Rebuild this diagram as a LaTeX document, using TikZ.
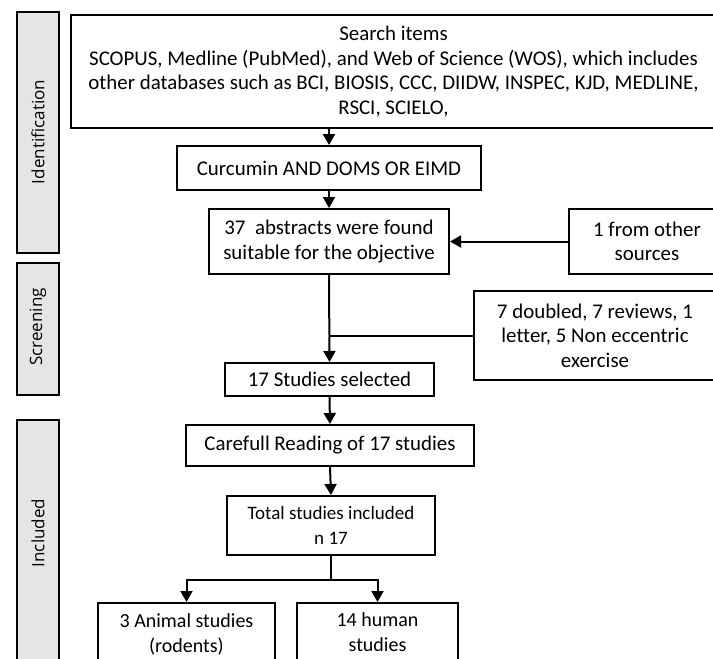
\documentclass[tikz,border=0pt]{standalone}
\usepackage{fontspec}
\setmainfont{Carlito}[Ligatures={NoCommon,NoRare},Contextuals=NoAlternate]
\newfontfamily\sidefont{Open Sans}
\usetikzlibrary{arrows.meta,calc}
\begin{document}
\begin{tikzpicture}[x=1pt,y=-1pt,
  box/.style={draw,line width=2pt,align=center,inner sep=0pt,anchor=north west,
    font=\fontsize{20.9}{24.5}\selectfont},
  smallbox/.style={box,font=\fontsize{20}{25}\selectfont},
  panel/.style={draw,line width=2pt,fill=black!10},
  sidelabel/.style={rotate=90,font=\sidefont\fontsize{17}{20}\selectfont},
  arr/.style={line width=2pt,-{Triangle[length=11pt,width=12pt]}},
  ln/.style={line width=2pt}]
\useasboundingbox (0,0) rectangle (713,659);
\clip (0,0) rectangle (713,659);
% side panels
\draw[panel] (17,12) rectangle (59,253);
\node[sidelabel] (lid) at (38,132) {Identification};
\draw[panel] (17,263) rectangle (59,395);
\node[sidelabel] (lsc) at (38,327) {Screening};
\draw[panel] (17,420) rectangle (59,700);
\node[sidelabel] (lin) at (38,533) {Included};
% boxes
\node[box,minimum width=645,minimum height=113] (top) at (70,14)
  {Search items\\SCOPUS, Medline (PubMed), and Web of Science (WOS), which includes\\other databases such as BCI, BIOSIS, CCC, DIIDW, INSPEC, KJD, MEDLINE,\\RSCI, SCIELO,};
\node[box,minimum width=304,minimum height=44] (curc) at (176,145) {Curcumin AND DOMS OR EIMD};
\node[box,minimum width=240,minimum height=65] (abs) at (208,208) {37\ \ abstracts were found\\suitable for the objective};
\node[box,minimum width=156,minimum height=65] (other) at (568,208) {1 from other\\sources};
\node[box,minimum width=242,minimum height=89] (excl) at (473,290) {7 doubled, 7 reviews, 1\\letter, 5 Non eccentric\\exercise};
\node[box,minimum width=209,minimum height=33] (sel) at (224,362) {17 Studies selected};
\node[box,minimum width=288,minimum height=41] (read) at (185,424) {Carefull Reading of 17 studies};
\node[smallbox,font=\fontsize{19}{24.5}\selectfont,minimum width=208,minimum height=59] (total) at (226,495) {Total studies included\\n 17};
\node[smallbox,minimum width=177,minimum height=62] (animal) at (97,602) {3 Animal studies\\(rodents)};
\node[smallbox,minimum width=161,minimum height=58] (human) at (296,602) {14 human\\studies};
% connectors
\draw[arr] (top.south -| curc.north) -- (curc.north);
\draw[arr] (curc.south) -- (abs.north);
\draw[arr] (other.west) -- (abs.east);
\draw[arr] (abs.south) -- (sel.north);
\draw[ln] (excl.west) -- (excl.west -| abs.south);
\draw[arr] (sel.south) -- (read.north);
\draw[arr] (read.south) -- (total.north);
\coordinate (j) at ($(total.south)+(0,24)$);
\draw[ln] (total.south) -- (j);
\draw[arr] (j) -| (animal.north);
\draw[arr] (j) -| (human.north);
\end{tikzpicture}
\end{document}
